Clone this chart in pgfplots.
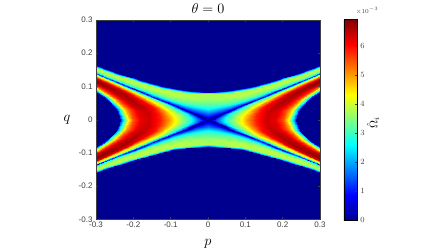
\documentclass[border=0pt]{standalone}
\usepackage{fontspec}
\setmainfont{Liberation Sans}
\usepackage{pgfplots}
\usepackage{pgfplotstable}
\pgfplotsset{compat=1.18}
\definecolor{tickgrey}{gray}{0.25}
\pgfplotstableread{
x y z
0 0 0
0 .009 .9
0 .021 1.7
0 .036 2.8
0 .06 3.6
0 .076 3.75
0 .079 2.7
0 .082 1.6
0 .084 0
.03 .0139 0
.03 .0214 1.1
.03 .0314 2.1
.03 .0439 3.1
.03 .0639 3.7
.03 .077 3.75
.03 .080 2.7
.03 .083 1.6
.03 .085 0
.06 .0278 0
.06 .0338 1.2
.06 .0418 2.3
.06 .0518 3.2
.06 .0678 3.8
.06 .0805 3.75
.06 .0835 2.7
.06 .0865 1.6
.06 .0885 0
.09 .0417 0
.09 .0467 1.4
.09 .0533 2.6
.09 .0615 3.4
.09 .0747 3.85
.09 .0861 3.75
.09 .0891 2.7
.09 .0921 1.6
.09 .0941 0
.12 .0556 0
.12 .0597 1.5
.12 .0651 2.7
.12 .0718 3.4
.12 .0826 3.85
.12 .0933 3.75
.12 .0963 2.7
.12 .0993 1.6
.12 .1013 0
.15 .0695 0
.15 .0728 1.5
.15 .0772 2.7
.15 .0827 3.4
.15 .0915 3.85
.15 .1018 3.75
.15 .1048 2.7
.15 .1078 1.6
.15 .1098 0
.18 .0834 0
.18 .0861 1.5
.18 .0897 2.7
.18 .0942 3.4
.18 .1014 3.85
.18 .1115 3.75
.18 .1145 2.7
.18 .1175 1.6
.18 .1195 0
.21 .0973 0
.21 .0997 1.5
.21 .1029 2.7
.21 .1069 3.4
.21 .1133 3.85
.21 .1219 3.75
.21 .1249 2.7
.21 .1279 1.6
.21 .1299 0
.24 .1112 0
.24 .1133 1.5
.24 .1161 2.7
.24 .1196 3.4
.24 .1252 3.85
.24 .133 3.75
.24 .136 2.7
.24 .139 1.6
.24 .141 0
.27 .1251 0
.27 .1269 1.5
.27 .1293 2.7
.27 .1323 3.4
.27 .1371 3.85
.27 .1445 3.75
.27 .1475 2.7
.27 .1505 1.6
.27 .1525 0
.3 .139 0
.3 .1407 1.5
.3 .1429 2.7
.3 .1456 3.4
.3 .15 3.85
.3 .1565 3.75
.3 .1595 2.7
.3 .1625 1.6
.3 .1645 0
}\bandtable
\pgfplotstableread{
x y z
0 0 0
.02 0 1.2
.047 0 2.8
.07 0 3.6
.09 0 4.4
.105 0 5.0
.125 0 5.8
.155 0 6.35
.18 0 6.2
.2 0 5.5
.21 0 4.8
.217 0 4.0
.226 0 2.8
.233 0 1.4
.237 0 0
.0209 .0097 0
.0209 .0028 1.2
.0491 .0066 2.8
.0732 .0099 3.6
.0941 .0127 4.4
.1098 .0148 5.0
.1307 .0176 5.85
.1620 .0219 6.4
.1882 .0254 6.25
.2091 .0282 5.55
.2195 .0296 4.85
.2268 .0306 4.05
.2362 .0319 2.85
.2436 .0329 1.4
.2477 .0334 0
.0237 .0110 0
.0237 .0059 1.2
.0557 .0139 2.8
.0830 .0207 3.6
.1067 .0266 4.4
.1245 .0310 5.0
.1482 .0369 5.95
.1838 .0457 6.55
.2134 .0531 6.4
.2371 .0590 5.65
.2490 .0620 4.95
.2573 .0640 4.1
.2679 .0667 2.9
.2762 .0687 1.45
.2810 .0699 0
.0287 .0133 0
.0287 .0095 1.2
.0674 .0224 2.8
.1003 .0333 3.6
.1290 .0428 4.4
.1505 .0499 5.0
.1791 .0595 6.05
.2221 .0737 6.65
.2580 .0856 6.5
.2866 .0951 5.75
.3010 .0999 5.05
.3110 .1032 4.2
.3239 .1075 2.95
.3339 .1108 1.45
.3396 .1127 0
.0362 .0168 0
.0362 .0140 1.2
.0851 .0329 2.8
.1267 .0490 3.6
.1630 .0629 4.4
.1901 .0734 5.0
.2263 .0874 6.2
.2807 .1084 6.8
.3259 .1259 6.65
.3621 .1399 5.9
.3802 .1469 5.15
.3929 .1517 4.3
.4092 .1580 3
.4219 .1629 1.5
.4291 .1657 0
.0470 .0218 0
.0470 .0197 1.2
.1106 .0464 2.8
.1647 .0691 3.6
.2117 .0888 4.4
.2470 .1036 5.0
.2941 .1233 6.25
.3646 .1529 6.85
.4234 .1776 6.7
.4705 .1973 5.95
.4940 .2072 5.2
.5105 .2141 4.3
.5316 .2229 3
.5481 .2299 1.5
.5575 .2338 0
.0622 .0288 0
.0622 .0273 1.2
.1461 .0641 2.8
.2175 .0954 3.6
.2797 .1227 4.4
.3263 .1431 5.0
.3884 .1704 6.3
.4817 .2113 6.9
.5594 .2454 6.75
.6215 .2726 6
.6526 .2863 5.2
.6743 .2958 4.35
.7023 .3081 3.05
.7240 .3176 1.5
.7365 .3231 0
.0829 .0384 0
.0829 .0373 1.2
.1948 .0876 2.8
.2901 .1304 3.6
.3730 .1677 4.4
.4352 .1956 5.0
.5180 .2329 6.3
.6424 .2888 6.9
.7460 .3354 6.75
.8289 .3727 6
.8703 .3913 5.2
.8993 .4043 4.35
.9366 .4211 3.05
.9656 .4341 1.5
.9822 .4416 0
.1226 .0568 0
.1226 .0561 1.2
.2882 .1317 2.8
.4293 .1962 3.6
.5519 .2523 4.4
.6439 .2943 5.0
.7665 .3504 6.3
.9505 .4345 6.9
1.1038 .5046 6.75
1.2265 .5606 6
1.2878 .5887 5.2
1.3307 .6083 4.35
1.3859 .6335 3.05
1.4288 .6531 1.5
1.4534 .6643 0
.2014 .0933 0
.2014 .0928 1.2
.4732 .2181 2.8
.7048 .3249 3.6
.9061 .4177 4.4
1.0571 .4873 5.0
1.2585 .5802 6.3
1.5605 .7194 6.9
1.8122 .8354 6.75
2.0136 .9282 6
2.1143 .9747 5.2
2.1848 1.0071 4.35
2.2754 1.0489 3.05
2.3458 1.0814 1.5
2.3861 1.0998 0
.3663 .1697 0
.3663 .1694 1.2
.8607 .3982 2.8
1.2819 .5930 3.6
1.6482 .7624 4.4
1.9229 .8895 5.0
2.2891 1.0589 6.3
2.8385 1.3131 6.9
3.2963 1.5249 6.75
3.6626 1.6943 6
3.8457 1.7790 5.2
3.9739 1.8383 4.35
4.1387 1.9145 3.05
4.2669 1.9738 1.5
4.3402 2.0077 0
}\wedgetable
\pgfplotsset{
  bandstyle/.style={surf,shader=interp,mesh/rows=11,mesh/cols=9,point meta=\thisrow{z}},
  wedgestyle/.style={surf,shader=interp,mesh/rows=11,mesh/cols=15,point meta=\thisrow{z}},
}
\begin{document}
\begin{tikzpicture}[x=1pt,y=1pt]
\useasboundingbox (0,0) rectangle (448,252);
\begin{axis}[
  at={(96pt,32.5pt)},anchor=south west,
  scale only axis,width=224pt,height=199.5pt,
  xmin=-0.3,xmax=0.3,ymin=-0.3,ymax=0.3,
  axis on top,
  axis background/.style={fill={rgb,1:red,0;green,0;blue,0.5625}},
  axis line style={tickgrey,line width=0.4pt},
  tick style={tickgrey,line width=0.4pt},
  tick align=inside,
  major tick length=2pt,
  xtick={-0.3,-0.2,-0.1,0,0.1,0.2,0.3},
  ytick={-0.3,-0.2,-0.1,0,0.1,0.2,0.3},
  xticklabels={-0.3,-0.2,-0.1,0,0.1,0.2,0.3},
  yticklabels={-0.3,-0.2,-0.1,0,0.1,0.2,0.3},
  ticklabel style={font=\fontsize{8}{9}\selectfont,text=tickgrey},
  xticklabel style={yshift=1pt},
  yticklabel style={xshift=0pt},
  title={},
  xlabel={},
  ylabel={},
  colormap={matlabjet}{rgb=(0,0,.5625) rgb=(0,0,1) rgb=(0,.5,1) rgb=(0,1,1) rgb=(.5,1,.5) rgb=(1,1,0) rgb=(1,.5,0) rgb=(1,0,0) rgb=(.5,0,0)},
  point meta min=0,point meta max=6.9,
  colorbar,
  colorbar style={
    at={(1.107,1.003)},anchor=north west,
    width=13pt,height=201pt,
    ytick={0,1,2,3,4,5,6},
    yticklabel pos=right,
    tick align=inside,
    major tick length=1.5pt,
    yticklabel style={font=\fontsize{8}{9}\selectfont,text=tickgrey},
  },
]
\addplot[bandstyle] table[x=x,y=y] {\bandtable};
\addplot[bandstyle] table[x expr=-\thisrow{x},y=y] {\bandtable};
\addplot[bandstyle] table[x=x,y expr=-0.97*\thisrow{y}] {\bandtable};
\addplot[bandstyle] table[x expr=-\thisrow{x},y expr=-0.97*\thisrow{y}] {\bandtable};
\addplot[wedgestyle] table[x=x,y=y] {\wedgetable};
\addplot[wedgestyle] table[x expr=-\thisrow{x},y=y] {\wedgetable};
\addplot[wedgestyle] table[x=x,y expr=-0.97*\thisrow{y}] {\wedgetable};
\addplot[wedgestyle] table[x expr=-\thisrow{x},y expr=-0.97*\thisrow{y}] {\wedgetable};
\end{axis}
\node[font=\fontsize{15}{17}\selectfont] at (208,243) {$\theta=0$};
\node[font=\fontsize{15}{17}\selectfont] at (208,8) {$p$};
\node[font=\fontsize{15}{17}\selectfont] at (67,132) {$q$};
\node[font=\fontsize{11}{13}\selectfont,rotate=90] at (373,129) {$\hat{\Omega}_i$};
\node[font=\fontsize{6.5}{7}\selectfont,text=tickgrey] at (367,241) {$\times 10^{-3}$};
\end{tikzpicture}
\end{document}
